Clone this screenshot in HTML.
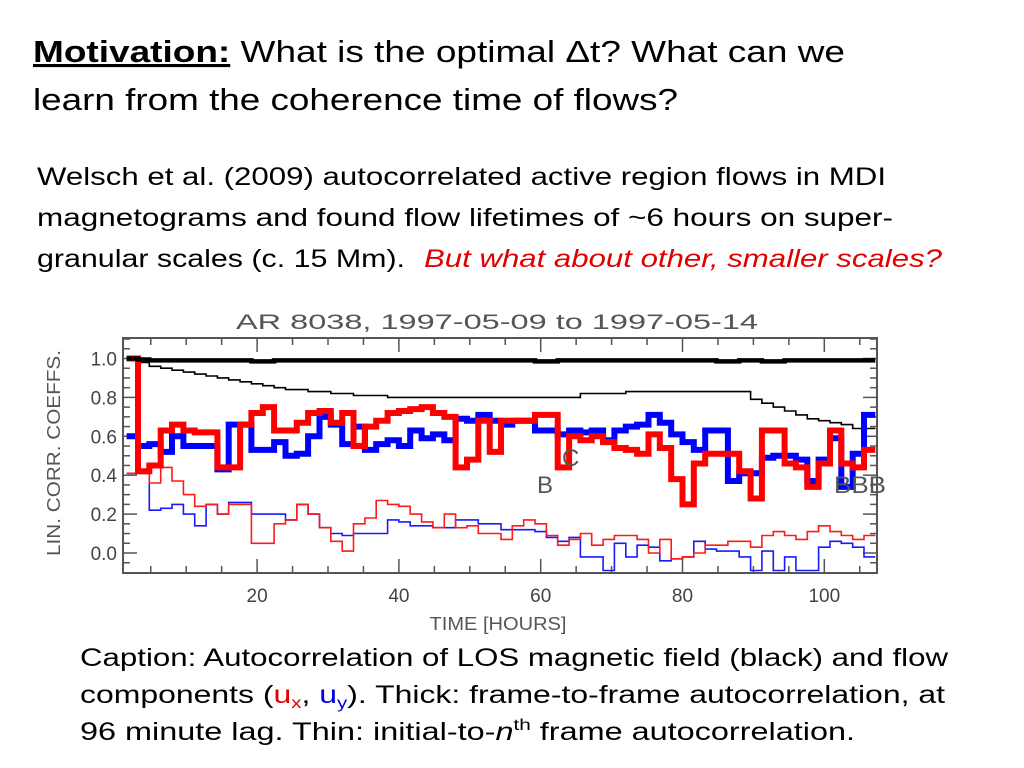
<!DOCTYPE html>
<html><head><meta charset="utf-8"><style>
html,body{margin:0;padding:0;background:#fff;}
svg{display:block}
</style></head><body>
<svg id="page" width="1024" height="768" viewBox="0 0 1024 768" xmlns="http://www.w3.org/2000/svg" font-family="'Liberation Sans', sans-serif">
  <g font-size="31" fill="#000">
    <text x="33" y="62" textLength="812" lengthAdjust="spacingAndGlyphs"><tspan font-weight="bold" text-decoration="underline">Motivation:</tspan> What is the optimal Δt?  What can we</text>
    <text x="33" y="110" textLength="645" lengthAdjust="spacingAndGlyphs">learn from the coherence time of flows?</text>
  </g>
  <g font-size="25" fill="#000">
    <text x="37" y="185" textLength="849" lengthAdjust="spacingAndGlyphs">Welsch et al. (2009) autocorrelated active region flows in MDI</text>
    <text x="37" y="226" textLength="856" lengthAdjust="spacingAndGlyphs">magnetograms and found flow lifetimes of ~6 hours on super-</text>
    <text x="37" y="267" textLength="368" lengthAdjust="spacingAndGlyphs">granular scales (c. 15 Mm).</text>
    <text x="424" y="267" fill="#e00000" font-style="italic" textLength="518" lengthAdjust="spacingAndGlyphs">But what about other, smaller scales?</text>
  </g>
  <g>
    <text x="497" y="329" text-anchor="middle" font-size="21" fill="#555" textLength="522" lengthAdjust="spacingAndGlyphs">AR 8038, 1997-05-09 to 1997-05-14</text>
    <text transform="translate(60,453) rotate(-90)" text-anchor="middle" font-size="18" fill="#555" textLength="206" lengthAdjust="spacingAndGlyphs">LIN. CORR. COEFFS.</text>
    <text x="498" y="630" text-anchor="middle" font-size="18" fill="#555" textLength="137" lengthAdjust="spacingAndGlyphs">TIME [HOURS]</text>
    <defs><clipPath id="plotclip"><rect x="123" y="338" width="754" height="235"/></clipPath></defs>
    <g id="ticks"></g>
    <g id="series" clip-path="url(#plotclip)"></g>
    <g font-size="24" fill="#555">
      <text x="537" y="493">B</text>
      <text x="562" y="466">C</text>
      <text x="834" y="493" textLength="52" lengthAdjust="spacingAndGlyphs">BBB</text>
    </g>
    <rect x="123" y="338" width="754" height="235" fill="none" stroke="#555" stroke-width="2"/>
  </g>
  <g font-size="25" fill="#000">
    <text x="80" y="666" textLength="868" lengthAdjust="spacingAndGlyphs">Caption: Autocorrelation of LOS magnetic field (black) and flow</text>
    <text x="80" y="703" textLength="865" lengthAdjust="spacingAndGlyphs">components (<tspan fill="#e00000">u<tspan font-size="16" dy="5">x</tspan></tspan><tspan dy="-5">, </tspan><tspan fill="#0000e0">u<tspan font-size="16" dy="5">y</tspan></tspan><tspan dy="-5">).  Thick: frame-to-frame autocorrelation, at</tspan></text>
    <text x="80" y="740" textLength="775" lengthAdjust="spacingAndGlyphs">96 minute lag.  Thin: initial-to-<tspan font-style="italic">n</tspan><tspan font-size="16" dy="-10">th</tspan><tspan dy="10"> frame autocorrelation.</tspan></text>
  </g>
</svg>
<script>
const stepStart = 1.6;
const stepHours = 1.6;
const xTicks = [20, 40, 60, 80, 100];
const yTicks = [0.0, 0.2, 0.4, 0.6, 0.8, 1.0];
const yTickLabels = ["0.0", "0.2", "0.4", "0.6", "0.8", "1.0"];
const blackThick = [1.0,0.995,0.99,0.99,0.99,0.99,0.99,0.99,0.99,0.99,0.99,0.985,0.985,0.99,0.99,0.99,0.99,0.99,0.99,0.99,0.99,0.99,0.99,0.99,0.99,0.99,0.99,0.99,0.99,0.99,0.99,0.99,0.99,0.99,0.99,0.99,0.985,0.985,0.99,0.99,0.99,0.99,0.99,0.99,0.99,0.99,0.99,0.99,0.99,0.99,0.99,0.99,0.985,0.985,0.99,0.99,0.985,0.985,0.99,0.99,0.99,0.99,0.99,0.99,0.99,0.99];
const blackThin = [1.0,0.98,0.96,0.95,0.94,0.93,0.92,0.91,0.90,0.89,0.88,0.87,0.86,0.85,0.84,0.84,0.83,0.83,0.82,0.82,0.81,0.81,0.81,0.80,0.80,0.80,0.80,0.80,0.80,0.80,0.80,0.80,0.80,0.80,0.80,0.80,0.80,0.80,0.80,0.80,0.82,0.82,0.82,0.82,0.83,0.83,0.83,0.83,0.83,0.83,0.83,0.83,0.83,0.83,0.83,0.79,0.77,0.75,0.73,0.71,0.69,0.68,0.67,0.66,0.64,0.64];
const redThick = [1.0,0.42,0.45,0.63,0.66,0.63,0.62,0.62,0.44,0.44,0.66,0.72,0.75,0.63,0.63,0.67,0.72,0.73,0.67,0.72,0.55,0.65,0.68,0.72,0.73,0.74,0.75,0.72,0.70,0.44,0.48,0.68,0.52,0.68,0.68,0.68,0.71,0.71,0.44,0.60,0.58,0.60,0.57,0.54,0.53,0.51,0.61,0.54,0.38,0.25,0.46,0.51,0.51,0.51,0.42,0.28,0.63,0.63,0.46,0.44,0.34,0.46,0.63,0.46,0.44,0.53];
const blueThick = [0.60,0.55,0.56,0.52,0.60,0.55,0.55,0.55,0.43,0.66,0.66,0.53,0.53,0.57,0.50,0.51,0.60,0.70,0.66,0.56,0.65,0.53,0.56,0.58,0.55,0.63,0.59,0.61,0.58,0.69,0.68,0.71,0.68,0.66,0.68,0.68,0.63,0.63,0.61,0.63,0.62,0.63,0.58,0.63,0.65,0.66,0.71,0.67,0.61,0.57,0.53,0.63,0.63,0.37,0.41,0.41,0.49,0.50,0.50,0.48,0.37,0.48,0.59,0.34,0.51,0.71];
const redThin = [0.41,0.41,0.36,0.44,0.37,0.30,0.24,0.25,0.20,0.25,0.25,0.05,0.05,0.15,0.17,0.25,0.20,0.13,0.06,0.01,0.15,0.18,0.27,0.25,0.24,0.20,0.16,0.13,0.20,0.13,0.14,0.10,0.10,0.07,0.14,0.17,0.15,0.09,0.04,0.07,0.10,0.04,0.07,0.09,0.09,0.07,0.00,0.07,-0.03,-0.02,0.00,0.04,0.04,0.06,0.06,0.03,0.09,0.11,0.09,0.07,0.11,0.14,0.11,0.09,0.07,0.09];
const blueThin = [0.41,0.41,0.22,0.23,0.25,0.20,0.14,0.25,0.20,0.26,0.26,0.20,0.20,0.20,0.17,0.25,0.20,0.13,0.10,0.09,0.10,0.10,0.10,0.17,0.16,0.14,0.14,0.13,0.13,0.17,0.17,0.15,0.15,0.12,0.12,0.12,0.11,0.08,0.06,0.08,-0.02,-0.02,-0.09,0.05,-0.02,0.04,0.03,-0.04,-0.03,-0.02,0.06,0.02,0.01,0.01,-0.02,-0.09,0.01,-0.09,-0.02,-0.09,-0.09,0.03,0.06,0.05,0.03,-0.02];

const NS = "http://www.w3.org/2000/svg";
function xs(t){ return 115.3 + 7.09 * t; }
function ys(v){ return 553 - 194.5 * v; }

const seriesG = document.getElementById('series');
function stepPath(vals, color, width, name){
  let d = '';
  vals.forEach((v, i) => {
    const x0 = xs(stepStart + stepHours * i), x1 = xs(stepStart + stepHours * (i + 1));
    d += (i === 0 ? 'M' : 'L') + x0.toFixed(1) + ',' + ys(v).toFixed(1) + 'L' + x1.toFixed(1) + ',' + ys(v).toFixed(1);
  });
  const p = document.createElementNS(NS, 'path');
  p.setAttribute('d', d);
  p.setAttribute('fill', 'none');
  p.setAttribute('stroke', color);
  p.setAttribute('stroke-width', width);
  p.setAttribute('stroke-linejoin', 'miter');
  
  
  seriesG.appendChild(p);
}
stepPath(blackThin, '#000', 1.6, 'line-black-thin');
stepPath(blueThin, '#1a1aff', 1.6, 'line-blue-thin');
stepPath(redThin, '#ff1a1a', 1.6, 'line-red-thin');
stepPath(blueThick, '#0000ff', 6, 'line-blue-thick');
stepPath(redThick, '#ff0000', 6, 'line-red-thick');
stepPath(blackThick, '#000', 4.5, 'line-black-thick');

const tg = document.getElementById('ticks');
function line(x1, y1, x2, y2, name){
  const l = document.createElementNS(NS, 'line');
  l.setAttribute('x1', x1); l.setAttribute('y1', y1); l.setAttribute('x2', x2); l.setAttribute('y2', y2);
  l.setAttribute('stroke', '#555'); l.setAttribute('stroke-width', '1.5');
  
  
  tg.appendChild(l);
}
function label(x, y, s, anchor, name){
  const t = document.createElementNS(NS, 'text');
  t.setAttribute('x', x); t.setAttribute('y', y);
  t.setAttribute('text-anchor', anchor);
  t.setAttribute('font-size', '19');
  t.setAttribute('fill', '#444');
  t.textContent = s;
  
  
  tg.appendChild(t);
}
for (let v = -0.1; v <= 1.1001; v += 0.05) {
  const y = ys(v);
  if (y < 339 || y > 572) continue;
  const major = Math.abs(Math.round(v * 5) - v * 5) < 0.01;
  line(123, y, 123 + (major ? 14 : 7), y, 'y-tick');
  line(877, y, 877 - (major ? 14 : 7), y, 'y-tick-right');
}
yTicks.forEach((v, i) => label(117, ys(v) + 7, yTickLabels[i], 'end', 'y-tick-label'));
for (let t = 5; t <= 105; t += 5) {
  const x = xs(t);
  const major = t % 20 === 0;
  line(x, 573, x, 573 - (major ? 14 : 7), 'x-tick');
  line(x, 338, x, 338 + (major ? 14 : 7), 'x-tick-top');
}
xTicks.forEach(t => label(xs(t), 602, String(t), 'middle', 'x-tick-label'));
</script>
</body></html>
